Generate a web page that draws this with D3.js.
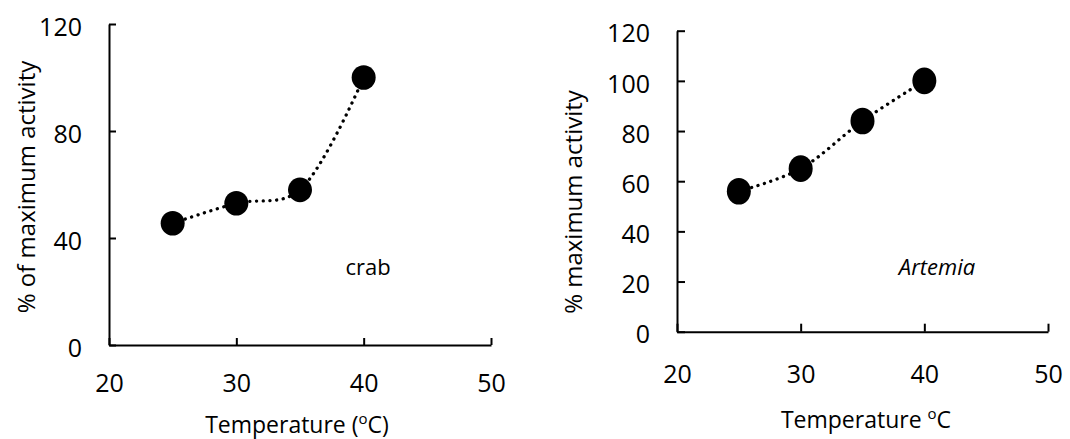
<!DOCTYPE html>
<html><head><meta charset="utf-8">
<script src="https://cdn.jsdelivr.net/npm/d3@7"></script>
<style>
body{margin:0;background:#fff}
text{font-family:"Open Sans",sans-serif;fill:#000}
</style>
</head><body>
<svg id="c" width="1070" height="439"></svg>
<script>
// ---- data ----
const temperatures = [25, 30, 35, 40];
const crabActivity = [45.5, 53, 58, 100];
const artemiaActivity = [56, 65, 84, 100];
const xTicks = [20, 30, 40, 50];
const crabYTicks = [0, 40, 80, 120];
const artemiaYTicks = [0, 20, 40, 60, 80, 100, 120];
const crabYLabel = "% of maximum activity";
const artemiaYLabel = "% maximum activity";
const crabSpecies = "crab";
const artemiaSpecies = "Artemia";

const svg = d3.select("#c");

function panel(o) {
  const x = d3.scaleLinear().domain([20, 50]).range(o.xr);
  const y = d3.scaleLinear().domain([0, 120]).range(o.yr);
  const g = svg.append("g");

  const xa = g.append("g").attr("transform", `translate(0,${o.yr[0]})`)
    .call(d3.axisBottom(x).tickValues(xTicks).tickFormat(d3.format("d"))
      .tickSize(-o.tick).tickSizeOuter(0).tickPadding(o.xPad));
  const ya = g.append("g").attr("transform", `translate(${o.xr[0]},0)`)
    .call(d3.axisLeft(y).tickValues(o.yTicks).tickFormat(d3.format("d"))
      .tickSize(-o.tick).tickSizeOuter(0).tickPadding(o.yPad));
  [xa, ya].forEach(a => {
    a.selectAll("path,line").attr("stroke", "#000").attr("stroke-width", 2);
    a.selectAll("text").attr("font-family", "Open Sans").attr("font-size", 25).attr("fill", "#000");
  });
  ya.selectAll("text").attr("dy", "0.45em");
  xa.selectAll("text").attr("dy", "0.66em");

  const pts = temperatures.map((t, i) => [t, o.values[i]]);
  const line = d3.line().x(d => x(d[0])).y(d => y(d[1])).curve(d3.curveCatmullRom.alpha(0.25));
  g.append("path").attr("d", line(pts)).attr("fill", "none").attr("stroke", "#000")
    .attr("stroke-width", 3.3).attr("stroke-linecap", "round").attr("stroke-dasharray", "0.1 6.6");
  g.selectAll("ellipse.pt").data(pts).join("ellipse").attr("class", "pt")
    .attr("cx", d => x(d[0])).attr("cy", d => y(d[1]))
    .attr("rx", o.rx).attr("ry", o.ry).attr("fill", "#000");

  // y label
  g.append("text").attr("transform", `translate(${o.ylx},${o.yly}) rotate(-90)`)
    .attr("text-anchor", "middle").attr("font-size", 24).text(o.ylabel);
  // x label
  const xt = g.append("text").attr("x", o.xlx).attr("y", o.xly)
    .attr("text-anchor", "middle").attr("font-size", 23);
  xt.append("tspan").text(o.paren ? "Temperature (" : "Temperature ");
  xt.append("tspan").attr("font-size", 15).attr("dy", -9).text("o");
  xt.append("tspan").attr("dy", 9).text(o.paren ? "C)" : "C");
  // species
  g.append("text").attr("x", o.sx).attr("y", o.sy).attr("text-anchor", "middle")
    .attr("font-size", 22).attr("font-style", o.italic ? "italic" : "normal").text(o.species);
}

panel({xr: [109, 491], yr: [345, 24], yTicks: crabYTicks, values: crabActivity, tick: 7,
  xPad: 30, yPad: 27, rx: 12, ry: 12.3, ylabel: crabYLabel, ylx: 35, yly: 187,
  xlx: 297, xly: 433, paren: true, sx: 368, sy: 275, species: crabSpecies, italic: false});
panel({xr: [677, 1048], yr: [331.7, 30.7], yTicks: artemiaYTicks, values: artemiaActivity, tick: 8,
  xPad: 35, yPad: 27, rx: 12, ry: 13.3, ylabel: artemiaYLabel, ylx: 582, yly: 202,
  xlx: 866, xly: 428, paren: false, sx: 937, sy: 275, species: artemiaSpecies, italic: true});
</script>
</body></html>
